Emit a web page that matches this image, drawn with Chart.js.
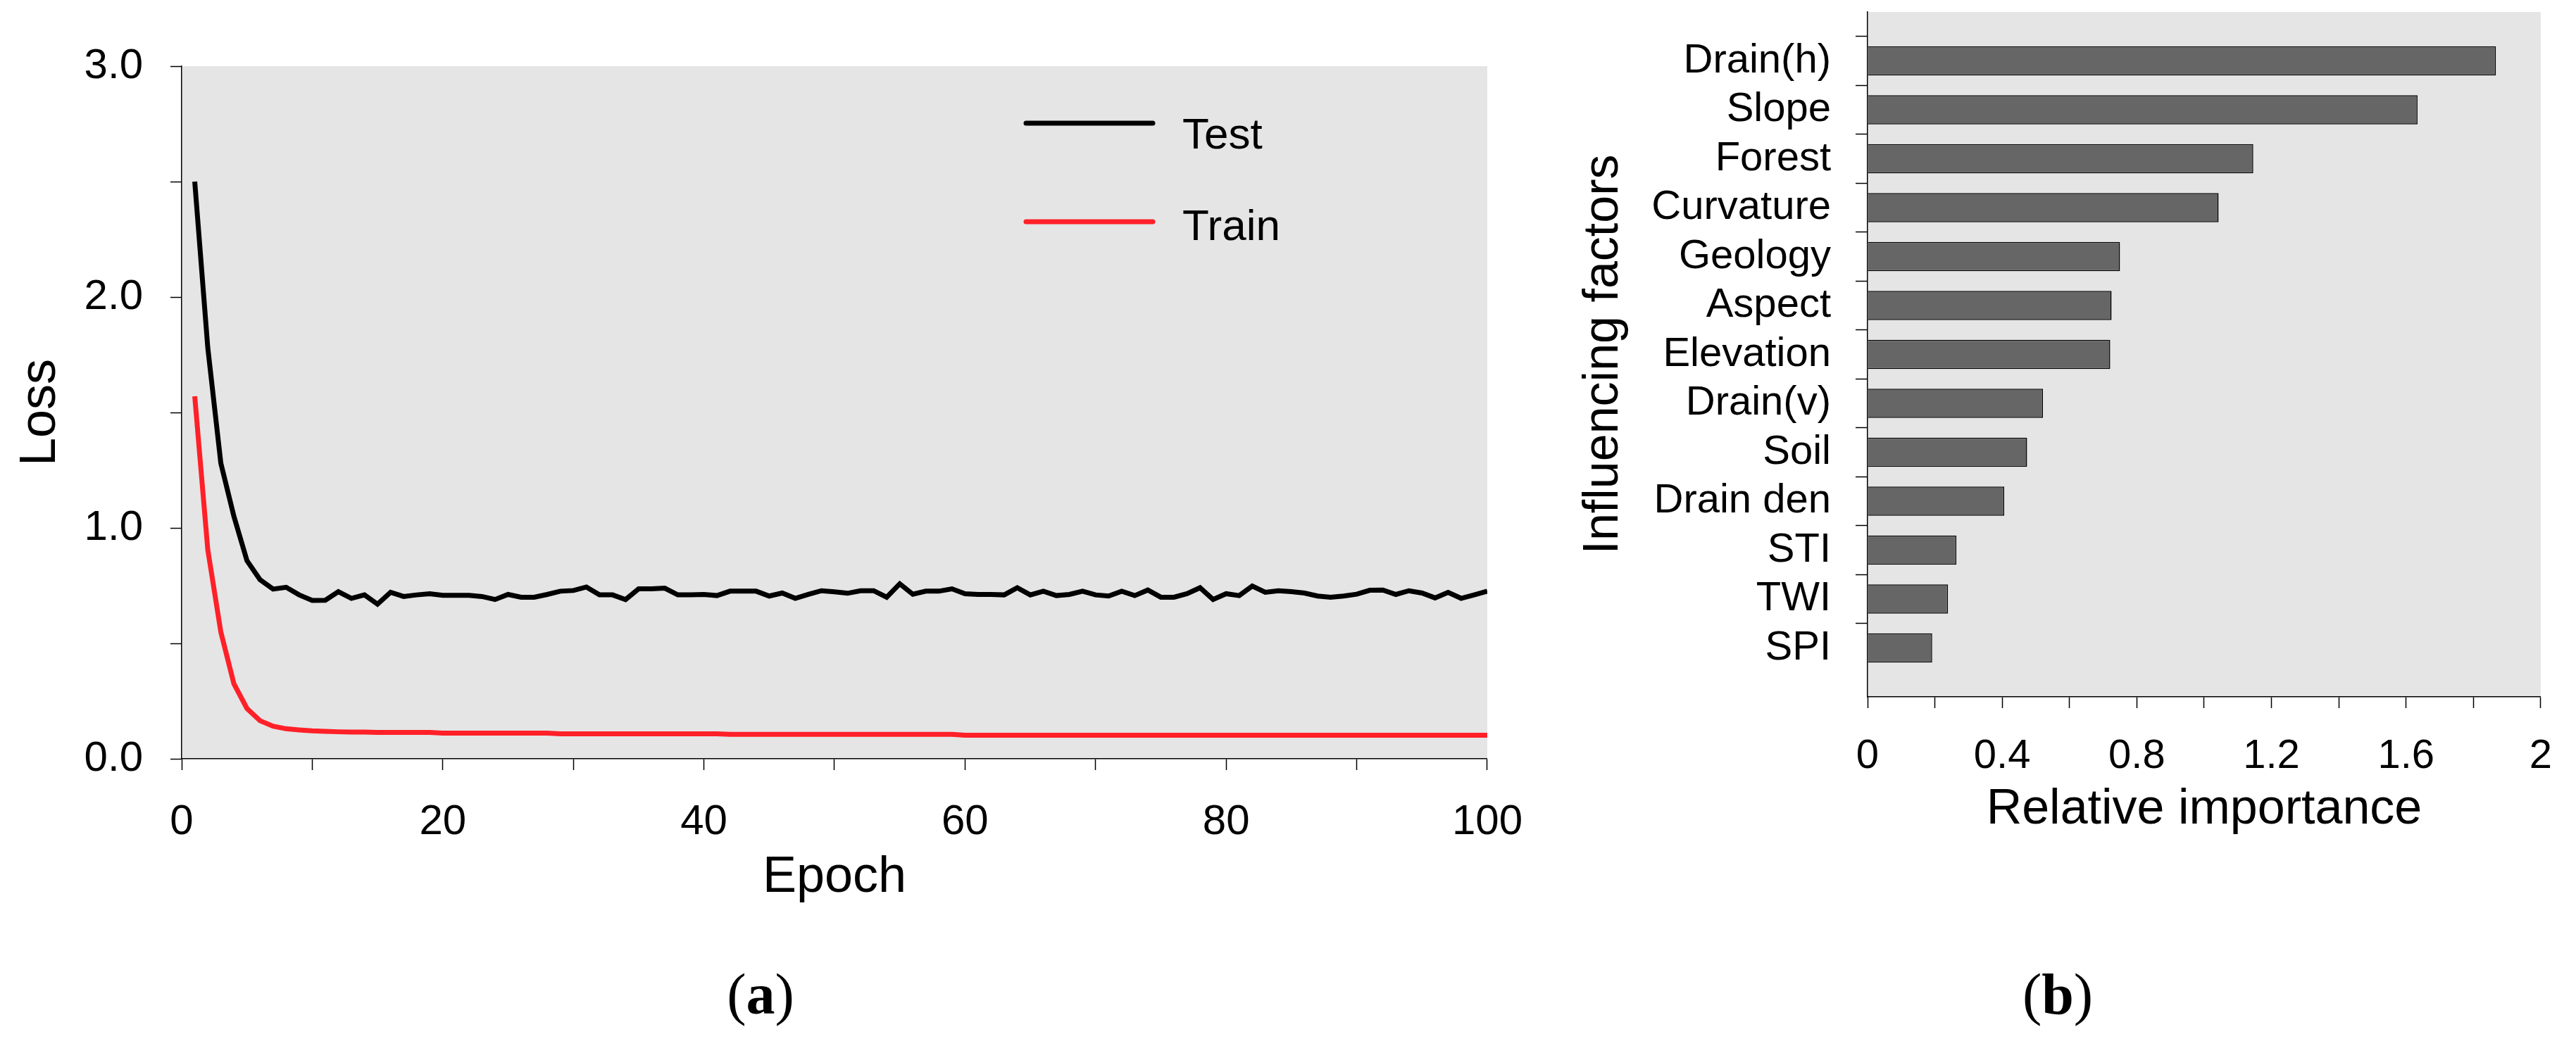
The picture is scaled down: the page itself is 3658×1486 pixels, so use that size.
<!DOCTYPE html>
<html>
<head>
<meta charset="utf-8">
<title>Loss curves and factor importance</title>
<script src="https://cdn.jsdelivr.net/npm/chart.js@4.4.1/dist/chart.umd.min.js"></script>
<style>
  html, body { margin: 0; padding: 0; background: #fff; }
  body { width: 3658px; height: 1486px; position: relative; overflow: hidden; }
  #lossBox { position: absolute; left: 0; top: 0; width: 2200px; height: 1486px; }
  #factorBox { position: absolute; left: 2200px; top: 0; width: 1458px; height: 1486px; }
</style>
</head>
<body>
<div id="lossBox"><canvas id="lossChart"></canvas></div>
<div id="factorBox"><canvas id="factorChart"></canvas></div>
<script>
// (a) loss per epoch
const epochs = Array.from({ length: 100 }, (_, i) => i + 1);

const testLoss = [
  2.50, 1.78, 1.28, 1.05, 0.858, 0.776, 0.735, 0.743, 0.710, 0.686,
  0.687, 0.724, 0.695, 0.710, 0.670, 0.721, 0.703, 0.710, 0.715, 0.708,
  0.708, 0.708, 0.703, 0.690, 0.712, 0.700, 0.700, 0.712, 0.726, 0.729,
  0.744, 0.710, 0.710, 0.690, 0.736, 0.736, 0.739, 0.710, 0.710, 0.712,
  0.707, 0.726, 0.726, 0.726, 0.705, 0.718, 0.695, 0.712, 0.728, 0.723,
  0.717, 0.728, 0.728, 0.700, 0.758, 0.713, 0.726, 0.726, 0.736, 0.715,
  0.712, 0.712, 0.710, 0.741, 0.710, 0.726, 0.707, 0.712, 0.726, 0.710,
  0.705, 0.726, 0.707, 0.731, 0.700, 0.700, 0.715, 0.741, 0.690, 0.715,
  0.707, 0.748, 0.721, 0.728, 0.724, 0.718, 0.705, 0.700, 0.705, 0.713,
  0.730, 0.731, 0.712, 0.728, 0.718, 0.697, 0.721, 0.695, 0.710, 0.726
];

const trainLoss = [
  1.57, 0.905, 0.549, 0.325, 0.218, 0.165, 0.141, 0.130, 0.125, 0.121,
  0.119, 0.117, 0.116, 0.116, 0.114, 0.114, 0.114, 0.114, 0.114, 0.111,
  0.111, 0.111, 0.111, 0.111, 0.111, 0.111, 0.111, 0.111, 0.108, 0.108,
  0.108, 0.108, 0.108, 0.108, 0.108, 0.108, 0.108, 0.108, 0.108, 0.108,
  0.108, 0.106, 0.106, 0.106, 0.106, 0.106, 0.106, 0.106, 0.106, 0.106,
  0.106, 0.106, 0.106, 0.106, 0.106, 0.106, 0.106, 0.106, 0.106, 0.102,
  0.102, 0.102, 0.102, 0.102, 0.102, 0.102, 0.102, 0.102, 0.102, 0.102,
  0.102, 0.102, 0.102, 0.102, 0.102, 0.102, 0.102, 0.102, 0.102, 0.102,
  0.102, 0.102, 0.102, 0.102, 0.102, 0.102, 0.102, 0.102, 0.102, 0.102,
  0.102, 0.102, 0.102, 0.102, 0.102, 0.102, 0.102, 0.102, 0.102, 0.102
];

// (b) relative importance of the factors, top to bottom
const factorLabels = ['Drain(h)', 'Slope', 'Forest', 'Curvature', 'Geology', 'Aspect', 'Elevation',
  'Drain(v)', 'Soil', 'Drain den', 'STI', 'TWI', 'SPI'];
const importance = [1.867, 1.634, 1.146, 1.043, 0.750, 0.725, 0.721, 0.521, 0.474, 0.406, 0.264, 0.239, 0.192];

Chart.defaults.font.family = '"Liberation Sans", Arial, sans-serif';
Chart.defaults.color = '#000';

// grey plot background
const plotBackground = {
  id: 'plotBackground',
  beforeDraw(chart) {
    const a = chart.chartArea;
    const ctx = chart.ctx;
    ctx.save();
    ctx.fillStyle = '#e5e5e5';
    ctx.fillRect(a.left, a.top, a.right - a.left, a.bottom - a.top);
    ctx.restore();
  }
};

// "(a)" / "(b)" under each panel
const panelLabel = {
  id: 'panelLabel',
  afterDraw(chart, args, opts) {
    const ctx = chart.ctx;
    const normal = '82px "Liberation Serif", "Times New Roman", serif';
    const bold = 'bold 82px "Liberation Serif", "Times New Roman", serif';
    ctx.save();
    ctx.fillStyle = '#000';
    ctx.textBaseline = 'alphabetic';
    ctx.font = normal;
    const wp = ctx.measureText('(').width;
    ctx.font = bold;
    const wl = ctx.measureText(opts.letter).width;
    let x = opts.centerX - (2 * wp + wl) / 2;
    ctx.font = normal;
    ctx.fillText('(', x, opts.baseline);
    x += wp;
    ctx.font = bold;
    ctx.fillText(opts.letter, x, opts.baseline);
    x += wl;
    ctx.font = normal;
    ctx.fillText(')', x, opts.baseline);
    ctx.restore();
  }
};

// legend inside the loss plot
const lossLegend = {
  id: 'lossLegend',
  afterDraw(chart) {
    const ctx = chart.ctx;
    const lineY = [175, 315];
    const textY = [211, 341];
    chart.data.datasets.forEach((ds, i) => {
      ctx.save();
      ctx.strokeStyle = ds.borderColor;
      ctx.lineWidth = 7;
      ctx.lineCap = 'round';
      ctx.beginPath();
      ctx.moveTo(1457, lineY[i]);
      ctx.lineTo(1637, lineY[i]);
      ctx.stroke();
      ctx.fillStyle = '#000';
      ctx.font = '62px "Liberation Sans", Arial, sans-serif';
      ctx.textBaseline = 'alphabetic';
      ctx.fillText(ds.label, 1679, textY[i]);
      ctx.restore();
    });
  }
};

const lossCtx = document.getElementById('lossChart').getContext('2d');
new Chart(lossCtx, {
  type: 'line',
  data: {
    labels: epochs,
    datasets: [
      {
        label: 'Test',
        data: testLoss,
        borderColor: '#000000',
        borderWidth: 7,
        pointRadius: 0,
        tension: 0,
        fill: false
      },
      {
        label: 'Train',
        data: trainLoss,
        borderColor: '#ff2028',
        borderWidth: 7,
        pointRadius: 0,
        tension: 0,
        fill: false
      }
    ]
  },
  options: {
    responsive: true,
    maintainAspectRatio: false,
    animation: false,
    devicePixelRatio: 1,
    layout: { padding: { top: 94, right: 77, bottom: 196, left: 0 } },
    scales: {
      x: {
        type: 'linear',
        min: 0,
        max: 100,
        grid: { drawOnChartArea: false, tickLength: 16, tickWidth: 1.5, tickColor: '#000' },
        border: { color: '#000', width: 1.5 },
        ticks: {
          stepSize: 10,
          autoSkip: false,
          maxRotation: 0,
          padding: 38,
          font: { size: 60 },
          color: '#000',
          callback: function(value) {
            return value % 20 === 0 ? value : '';
          }
        },
        title: { display: true, text: 'Epoch', font: { size: 72 }, color: '#000', padding: 0 },
        afterFit: function(scale) { scale.height = 212; }
      },
      y: {
        min: 0,
        max: 3,
        grid: { drawOnChartArea: false, tickLength: 16, tickWidth: 1.5, tickColor: '#000' },
        border: { color: '#000', width: 1.5 },
        ticks: {
          stepSize: 0.5,
          autoSkip: false,
          padding: 39,
          font: { size: 60 },
          color: '#000',
          callback: function(value) {
            return value % 1 === 0 ? value.toFixed(1) : '';
          }
        },
        title: { display: true, text: 'Loss', font: { size: 72 }, color: '#000', padding: { top: 15, bottom: 0 } },
        afterFit: function(scale) { scale.width = 258; }
      }
    },
    plugins: {
      legend: { display: false },
      tooltip: { enabled: false },
      panelLabel: { letter: 'a', centerX: 1080, baseline: 1440 }
    }
  },
  plugins: [plotBackground, lossLegend, panelLabel]
});

// empty slot above and below the bars, like the reference's axis
const paddedLabels = [''].concat(factorLabels, ['']);
const paddedImportance = [null].concat(importance, [null]);

const factorCtx = document.getElementById('factorChart').getContext('2d');
new Chart(factorCtx, {
  type: 'bar',
  data: {
    labels: paddedLabels,
    datasets: [{
      label: 'Relative importance',
      data: paddedImportance,
      backgroundColor: '#666666',
      borderColor: '#000000',
      borderWidth: 1.5,
      barPercentage: 0.6,
      categoryPercentage: 1
    }]
  },
  options: {
    indexAxis: 'y',
    responsive: true,
    maintainAspectRatio: false,
    animation: false,
    devicePixelRatio: 1,
    layout: { padding: { top: 17, right: 49, bottom: 293, left: 0 } },
    scales: {
      x: {
        type: 'linear',
        min: 0,
        max: 2,
        grid: { drawOnChartArea: false, tickLength: 16, tickWidth: 1.5, tickColor: '#000' },
        border: { color: '#000', width: 1.5 },
        ticks: {
          stepSize: 0.2,
          autoSkip: false,
          maxRotation: 0,
          padding: 34,
          font: { size: 58 },
          color: '#000',
          callback: function(value) {
            const tenths = Math.round(value * 10);
            return tenths % 4 === 0 ? String(tenths / 10) : '';
          }
        },
        title: { display: true, text: 'Relative importance', font: { size: 70 }, color: '#000', padding: 0 },
        afterFit: function(scale) { scale.height = 203; }
      },
      y: {
        type: 'category',
        offset: false,
        grid: {
          drawOnChartArea: false,
          tickLength: 17,
          tickWidth: 1.5,
          tickColor: function(ctx) {
            return ctx.tick && ctx.tick.label === '' ? 'rgba(0,0,0,0)' : '#000';
          }
        },
        border: { color: '#000', width: 1.5 },
        ticks: { autoSkip: false, padding: 35, font: { size: 58 }, color: '#000' },
        title: { display: true, text: 'Influencing factors', font: { size: 70 }, color: '#000', padding: { top: 36, bottom: 0 } },
        afterFit: function(scale) {
          scale.width = 452;
          // the empty end labels should not push the plot area in
          scale.paddingTop = 0;
          scale.paddingBottom = 0;
        }
      }
    },
    plugins: {
      legend: { display: false },
      tooltip: { enabled: false },
      panelLabel: { letter: 'b', centerX: 722, baseline: 1440 }
    }
  },
  plugins: [plotBackground, panelLabel]
});
</script>
</body>
</html>
